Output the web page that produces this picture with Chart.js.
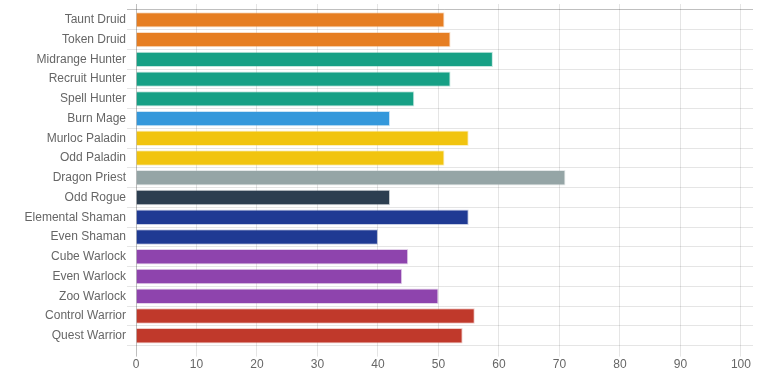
<!DOCTYPE html>
<html>
<head>
<meta charset="utf-8">
<script src="https://cdn.jsdelivr.net/npm/chart.js@4/dist/chart.umd.min.js"></script>
<style>
  html, body { margin: 0; padding: 0; background: #fff; }
  #wrap { width: 773px; height: 376px; position: relative; }
</style>
</head>
<body>
<div id="wrap"><canvas id="c" width="773" height="376"></canvas></div>
<script>
const categories = ["Taunt Druid","Token Druid","Midrange Hunter","Recruit Hunter","Spell Hunter","Burn Mage","Murloc Paladin","Odd Paladin","Dragon Priest","Odd Rogue","Elemental Shaman","Even Shaman","Cube Warlock","Even Warlock","Zoo Warlock","Control Warrior","Quest Warrior"];
const values = [51,52,59,52,46,42,55,51,71,42,55,40,45,44,50,56,54];
const barColors = ["#e67e22","#e67e22","#16a085","#16a085","#16a085","#3498db","#f1c40f","#f1c40f","#95a5a6","#2c3e50","#1f3a93","#1f3a93","#8e44ad","#8e44ad","#8e44ad","#c0392b","#c0392b"];
const xTicks = [0,10,20,30,40,50,60,70,80,90,100];

function withAlpha(hex, a) {
  const n = parseInt(hex.slice(1), 16);
  return `rgba(${(n>>16)&255},${(n>>8)&255},${n&255},${a})`;
}

Chart.defaults.font.family = '"Liberation Sans", Arial, Helvetica, sans-serif';
Chart.defaults.font.size = 12;
Chart.defaults.color = '#666';

const xGridColor = (ctx) => (ctx.tick && ctx.tick.value === 0) ? 'rgba(0,0,0,0.25)' : 'rgba(0,0,0,0.1)';

new Chart(document.getElementById('c'), {
  type: 'bar',
  data: {
    labels: categories,
    datasets: [{
      data: values,
      backgroundColor: barColors,
      borderColor: barColors.map(c => withAlpha(c, 0.25)),
      borderWidth: 1,
      borderSkipped: 'start',
      barPercentage: 0.975,
      categoryPercentage: 0.8
    }]
  },
  options: {
    indexAxis: 'y',
    responsive: false,
    animation: false,
    layout: { padding: { left: 0, right: 20, top: 4, bottom: 3 } },
    plugins: { legend: { display: false }, tooltip: { enabled: false } },
    scales: {
      x: {
        position: 'bottom',
        min: 0, max: 102,
        afterBuildTicks: (s) => { s.ticks = xTicks.map(v => ({ value: v })); },
        ticks: { stepSize: 10, includeBounds: false, padding: 1, color: '#666', maxRotation: 0 },
        grid: { color: xGridColor, tickLength: 11, tickColor: xGridColor },
        border: { display: false }
      },
      xTop: {
        position: 'top',
        axis: 'x',
        min: 0, max: 102,
        afterBuildTicks: (s) => { s.ticks = xTicks.map(v => ({ value: v })); },
        ticks: { display: false, stepSize: 10, includeBounds: false },
        grid: { drawOnChartArea: false, color: xGridColor, tickLength: 6 },
        border: { display: false }
      },
      y: {
        grid: {
          offset: true,
          tickLength: 9,
          color: (ctx) => ctx.index === 0 ? 'rgba(0,0,0,0.25)' : (ctx.index === categories.length ? 'rgba(0,0,0,0.07)' : 'rgba(0,0,0,0.1)'),
          lineWidth: (ctx) => ctx.index === categories.length ? 2 : 1
        },
        border: { display: false },
        ticks: { padding: 1, color: '#666' },
        afterFit: (s) => { s.width = 136; }
      }
    }
  }
});
</script>
</body>
</html>
